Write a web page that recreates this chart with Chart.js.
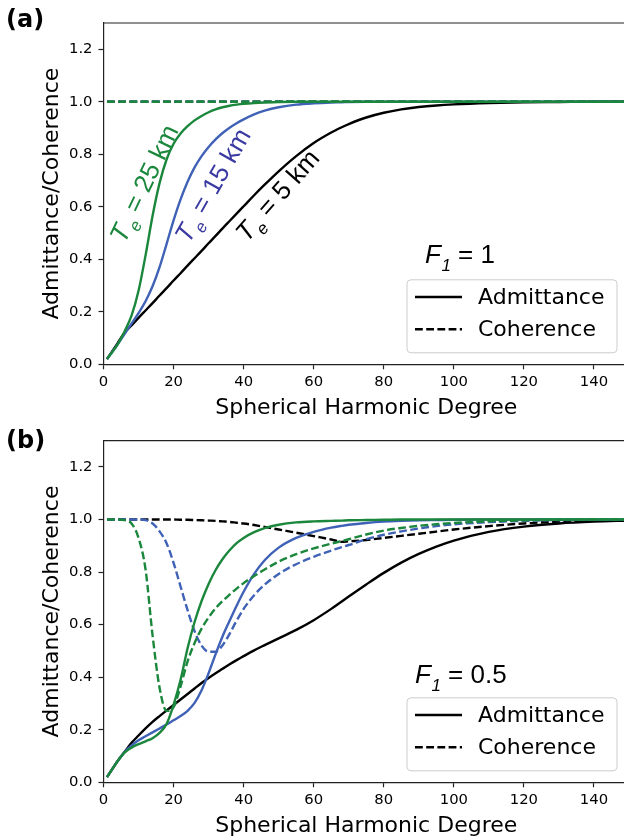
<!DOCTYPE html>
<html>
<head>
<meta charset="utf-8">
<script src="https://cdn.jsdelivr.net/npm/chart.js@4.4.0/dist/chart.umd.min.js"></script>
<style>
html, body { margin: 0; padding: 0; overflow: hidden; background: #ffffff; width: 624px; height: 840px; }
#wrap { position: relative; width: 624px; height: 840px; overflow: hidden; }
.panel { position: absolute; left: 0; width: 629px; height: 420px; }
canvas { display: block; }
</style>
</head>
<body>
<div id="wrap">
  <div class="panel" style="top:0"><canvas id="chartA" width="629" height="420"></canvas></div>
  <div class="panel" style="top:420px"><canvas id="chartB" width="629" height="420"></canvas></div>
</div>
<script>
// ---------------- DATA ----------------
const degree = [1,2,4,6,8,10,12,14,16,18,20,22,24,26,28,30,32,34,36,38,40,43,46,50,55,60,65,68,70,75,80,85,90,95,100,110,120,130,140,150];

// Panel (a): F1 = 1
const admitA_Te5  = [0.02,0.04,0.08,0.12,0.148,0.177,0.205,0.233,0.262,0.29,0.319,0.347,0.376,0.404,0.432,0.461,0.489,0.518,0.546,0.574,0.602,0.644,0.684,0.735,0.793,0.843,0.883,0.903,0.915,0.94,0.958,0.971,0.98,0.986,0.99,0.995,0.998,0.999,1.0,1.0];
const admitA_Te15 = [0.02,0.038,0.075,0.115,0.155,0.195,0.24,0.297,0.37,0.458,0.548,0.628,0.695,0.75,0.793,0.828,0.857,0.881,0.901,0.918,0.933,0.952,0.966,0.979,0.989,0.994,0.997,0.998,0.999,1.0,1.0,1.0,1.0,1.0,1.0,1.0,1.0,1.0,1.0,1.0];
const admitA_Te25 = [0.02,0.038,0.075,0.125,0.185,0.28,0.415,0.565,0.69,0.78,0.84,0.879,0.907,0.929,0.946,0.96,0.971,0.979,0.985,0.989,0.992,0.995,0.997,0.999,1.0,1.0,1.0,1.0,1.0,1.0,1.0,1.0,1.0,1.0,1.0,1.0,1.0,1.0,1.0,1.0];
const coherA_Te5  = [1,1,1,1,1,1,1,1,1,1,1,1,1,1,1,1,1,1,1,1,1,1,1,1,1,1,1,1,1,1,1,1,1,1,1,1,1,1,1,1];
const coherA_Te15 = [1,1,1,1,1,1,1,1,1,1,1,1,1,1,1,1,1,1,1,1,1,1,1,1,1,1,1,1,1,1,1,1,1,1,1,1,1,1,1,1];
const coherA_Te25 = [1,1,1,1,1,1,1,1,1,1,1,1,1,1,1,1,1,1,1,1,1,1,1,1,1,1,1,1,1,1,1,1,1,1,1,1,1,1,1,1];

// Panel (b): F1 = 0.5
const admitB_Te5  = [0.02,0.04,0.08,0.115,0.15,0.178,0.205,0.23,0.252,0.273,0.294,0.315,0.336,0.357,0.378,0.397,0.415,0.432,0.449,0.465,0.48,0.502,0.522,0.548,0.58,0.617,0.66,0.688,0.707,0.753,0.797,0.836,0.869,0.897,0.92,0.953,0.973,0.985,0.992,0.996];
const admitB_Te15 = [0.02,0.04,0.08,0.115,0.14,0.16,0.175,0.19,0.205,0.22,0.236,0.252,0.272,0.302,0.35,0.415,0.488,0.556,0.615,0.672,0.725,0.793,0.845,0.893,0.93,0.953,0.969,0.976,0.98,0.987,0.992,0.995,0.997,0.998,0.999,1.0,1.0,1.0,1.0,1.0];
const admitB_Te25 = [0.02,0.04,0.08,0.113,0.132,0.145,0.156,0.168,0.188,0.222,0.295,0.39,0.51,0.61,0.69,0.755,0.808,0.85,0.883,0.91,0.93,0.952,0.967,0.98,0.989,0.993,0.995,0.996,0.997,0.998,0.999,1.0,1.0,1.0,1.0,1.0,1.0,1.0,1.0,1.0];
const coherB_Te5  = [1,1,1,1,1,1,1,1,1,1,1,0.999,0.999,0.998,0.997,0.996,0.995,0.993,0.991,0.988,0.985,0.979,0.972,0.962,0.95,0.937,0.924,0.915,0.917,0.922,0.93,0.938,0.946,0.954,0.962,0.975,0.985,0.992,0.996,0.998];
const coherB_Te15 = [1,1,1,1,1,1,0.998,0.985,0.955,0.91,0.835,0.745,0.655,0.575,0.52,0.497,0.497,0.522,0.565,0.615,0.66,0.712,0.752,0.793,0.83,0.858,0.882,0.895,0.903,0.925,0.942,0.955,0.966,0.975,0.982,0.99,0.995,0.998,0.999,1.0];
const coherB_Te25 = [1,1,1,0.998,0.985,0.93,0.81,0.56,0.36,0.272,0.286,0.365,0.46,0.53,0.585,0.627,0.662,0.69,0.714,0.737,0.758,0.785,0.81,0.84,0.868,0.89,0.908,0.918,0.925,0.943,0.958,0.968,0.976,0.982,0.987,0.993,0.997,0.999,1.0,1.0];

const legendLabels = ['Admittance', 'Coherence'];
const teValues = ['5', '15', '25'];
const f1Values = ['1', '0.5'];
const panelLabels = ['(a)', '(b)'];
const xAxisTitle = 'Spherical Harmonic Degree';
const yAxisTitle = 'Admittance/Coherence';

// ---------------- STYLE ----------------
const colTe5 = '#000000';
const colTe15 = '#4062b6';
const colTe25 = '#1b873c';
const colTe15Text = '#3a3aa2';
const dashPattern = [7.8, 3.4];

function series(values, color, dashed, order) {
  return {
    data: degree.map((d, i) => ({ x: d, y: values[i] })),
    borderColor: color,
    borderWidth: 2.4,
    borderDash: dashed ? dashPattern : [],
    pointRadius: 0,
    fill: false,
    cubicInterpolationMode: 'monotone',
    order: order
  };
}

function drawSubText(ctx, x0, baseY, main, sub, rest, size, color) {
  const fMainI = 'italic ' + size + 'px "Liberation Sans", Arial, sans-serif';
  const fSub = 'italic ' + Math.round(size * 0.64) + 'px "Liberation Sans", Arial, sans-serif';
  const fMain = size + 'px "Liberation Sans", Arial, sans-serif';
  ctx.fillStyle = color;
  ctx.textAlign = 'left';
  ctx.textBaseline = 'alphabetic';
  ctx.font = fMainI; const w1 = ctx.measureText(main).width;
  ctx.fillText(main, x0, baseY);
  ctx.font = fSub; const w2 = ctx.measureText(sub).width;
  ctx.fillText(sub, x0 + w1 + 0.5, baseY + size * 0.29);
  ctx.font = fMain;
  ctx.fillText(rest, x0 + w1 + w2 + 0.5, baseY);
}
function measureSubText(ctx, main, sub, rest, size) {
  ctx.font = 'italic ' + size + 'px "Liberation Sans", Arial, sans-serif';
  let w = ctx.measureText(main).width;
  ctx.font = 'italic ' + Math.round(size * 0.64) + 'px "Liberation Sans", Arial, sans-serif';
  w += ctx.measureText(sub).width + 0.5;
  ctx.font = size + 'px "Liberation Sans", Arial, sans-serif';
  w += ctx.measureText(rest).width;
  return w;
}

const decorPlugin = {
  id: 'decor',
  afterDraw(chart, args, o) {
    const ctx = chart.ctx;
    const a = chart.chartArea;
    const xs = chart.scales.x, ys = chart.scales.y;
    ctx.save();
    // top and right spines
    ctx.strokeStyle = '#222222';
    ctx.lineWidth = 1.2;
    ctx.setLineDash([]);
    ctx.beginPath();
    ctx.moveTo(a.left, a.top);
    ctx.lineTo(a.right, a.top);
    ctx.lineTo(a.right, a.bottom);
    ctx.stroke();

    // panel label
    ctx.fillStyle = '#000';
    ctx.font = 'bold 24px "DejaVu Sans", sans-serif';
    ctx.textAlign = 'left';
    ctx.textBaseline = 'middle';
    ctx.fillText(o.panelLabel, 6, o.panelLabelY);

    // axis titles
    ctx.font = '22px "DejaVu Sans", sans-serif';
    ctx.textAlign = 'center';
    ctx.textBaseline = 'alphabetic';
    ctx.fillText(xAxisTitle, (a.left + a.right) / 2, a.bottom + 50);
    ctx.save();
    ctx.translate(a.left - 46, (a.top + a.bottom) / 2);
    ctx.rotate(-Math.PI / 2);
    ctx.fillText(yAxisTitle, 0, 0);
    ctx.restore();

    // F1 annotation
    drawSubText(ctx, o.f1X, 263.3, 'F', '1', ' = ' + o.f1, 26, '#000');

    // Te labels
    (o.teLabels || []).forEach(t => {
      const cx = xs.getPixelForValue(t.x), cy = ys.getPixelForValue(t.y);
      ctx.save();
      ctx.translate(cx, cy);
      ctx.rotate(-t.angle * Math.PI / 180);
      const rest = ' = ' + t.value + ' km';
      const w = measureSubText(ctx, 'T', 'e', rest, 26);
      drawSubText(ctx, -w / 2, 9.3, 'T', 'e', rest, 26, t.color);
      ctx.restore();
    });

    // legend
    const bx = a.right - 222, by = a.bottom - 84.5, bw = 210, bh = 73;
    ctx.beginPath();
    if (ctx.roundRect) ctx.roundRect(bx, by, bw, bh, 4); else ctx.rect(bx, by, bw, bh);
    ctx.fillStyle = 'rgba(255,255,255,0.8)';
    ctx.fill();
    ctx.strokeStyle = '#cccccc';
    ctx.lineWidth = 1;
    ctx.stroke();
    const rows = [by + 17.2, by + 49.5];
    ctx.strokeStyle = '#000';
    ctx.lineWidth = 2.4;
    rows.forEach((ry, i) => {
      ctx.setLineDash(i === 0 ? [] : dashPattern);
      ctx.beginPath();
      ctx.moveTo(bx + 8, ry);
      ctx.lineTo(bx + 55, ry);
      ctx.stroke();
    });
    ctx.setLineDash([]);
    ctx.fillStyle = '#000';
    ctx.font = '22px "DejaVu Sans", sans-serif';
    ctx.textAlign = 'left';
    ctx.textBaseline = 'middle';
    rows.forEach((ry, i) => ctx.fillText(legendLabels[i], bx + 71, ry + 1));
    ctx.restore();
  }
};

function makeChart(id, datasets, cfg) {
  return new Chart(document.getElementById(id), {
    type: 'line',
    data: { datasets: datasets },
    options: {
      responsive: false,
      animation: false,
      devicePixelRatio: 1,
      layout: { padding: { left: 0, right: 0, top: cfg.top, bottom: 0 } },
      plugins: {
        legend: { display: false },
        tooltip: { enabled: false },
        decor: cfg.decor
      },
      scales: {
        x: {
          type: 'linear', min: 0, max: 150,
          afterFit: s => { s.height = cfg.xh; },
          ticks: { stepSize: 20, includeBounds: false, maxRotation: 0, color: '#000', padding: 4,
                   font: { family: '"DejaVu Sans", sans-serif', size: 14.8 } },
          grid: { drawOnChartArea: false, drawTicks: true, tickLength: 5, tickWidth: 1.2, tickColor: '#222' },
          border: { display: true, color: '#222', width: 1.2 }
        },
        y: {
          type: 'linear', min: 0, max: 1.3,
          afterFit: s => { s.width = 103.5; },
          ticks: { stepSize: 0.2, includeBounds: false, color: '#000', padding: 6,
                   font: { family: '"DejaVu Sans", sans-serif', size: 14.8 },
                   callback: v => Number(v).toFixed(1) },
          grid: { drawOnChartArea: false, drawTicks: true, tickLength: 5, tickWidth: 1.2, tickColor: '#222' },
          border: { display: true, color: '#222', width: 1.2 }
        }
      }
    },
    plugins: [decorPlugin]
  });
}

makeChart('chartA', [
  series(admitA_Te5, colTe5, false, 6),
  series(coherA_Te5, colTe5, true, 5),
  series(admitA_Te15, colTe15, false, 4),
  series(coherA_Te15, colTe15, true, 3),
  series(admitA_Te25, colTe25, false, 2),
  series(coherA_Te25, colTe25, true, 1)
], {
  top: 23, xh: 55.7,
  decor: {
    panelLabel: panelLabels[0], panelLabelY: 21, f1: f1Values[0], f1X: 425,
    teLabels: [
      { x: 11.4, y: 0.69, angle: 64.5, value: teValues[2], color: colTe25 },
      { x: 31.0, y: 0.683, angle: 60.3, value: teValues[1], color: colTe15Text },
      { x: 49.5, y: 0.645, angle: 48.7, value: teValues[0], color: colTe5 }
    ]
  }
});

makeChart('chartB', [
  series(admitB_Te5, colTe5, false, 6),
  series(coherB_Te5, colTe5, true, 5),
  series(admitB_Te15, colTe15, false, 4),
  series(coherB_Te15, colTe15, true, 3),
  series(admitB_Te25, colTe25, false, 2),
  series(coherB_Te25, colTe25, true, 1)
], {
  top: 20.7, xh: 57.7,
  decor: { panelLabel: panelLabels[1], panelLabelY: 22, f1: f1Values[1], f1X: 415, teLabels: [] }
});
</script>
</body>
</html>
